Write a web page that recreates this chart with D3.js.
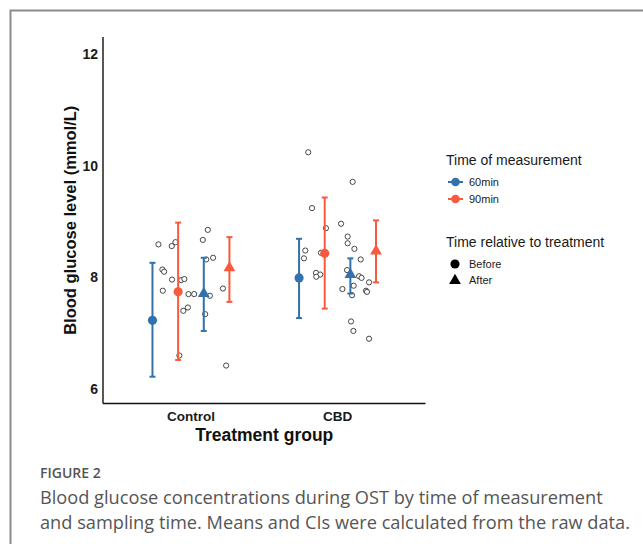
<!DOCTYPE html>
<html><head><meta charset="utf-8">
<script src="https://cdn.jsdelivr.net/npm/d3@7"></script>
<style>
body{margin:0;background:#fff;}
svg{display:block;}
</style></head>
<body>
<svg id="c" width="643" height="544"></svg>
<script>
// ---- data ----
const groups = ["Control", "CBD"];
const measurementTimes = ["60min", "90min"];
const relativeTimes = ["Before", "After"];
const yTicks = [6, 8, 10, 12];

// summary: group, relative time, measurement time, mean, lower CI, upper CI
const summaryGroup = ["Control","Control","Control","Control","CBD","CBD","CBD","CBD"];
const summaryRel   = ["Before","Before","After","After","Before","Before","After","After"];
const summaryMeas  = ["60min","90min","60min","90min","60min","90min","60min","90min"];
const summaryMean  = [7.23, 7.74, 7.71, 8.17, 7.99, 8.43, 8.05, 8.47];
const summaryLow   = [6.22, 6.52, 7.04, 7.56, 7.27, 7.44, 7.71, 7.91];
const summaryHigh  = [8.26, 8.98, 8.35, 8.72, 8.69, 9.43, 8.34, 9.02];

// raw (jittered) observations: x position on the category axis, glucose value
const rawX = [0.778,0.869,0.894,0.805,0.817,0.871,0.933,0.955,0.808,0.983,1.022,1.129,0.948,0.979,0.921,1.097,1.081,1.115,1.104,1.151,1.218,1.240,
              1.800,2.103,1.826,2.024,1.921,2.069,2.069,2.115,1.780,1.771,1.887,2.158,2.065,1.853,1.882,1.855,2.147,2.164,2.110,2.215,2.033,2.099,2.194,2.201,2.092,2.108,2.215];
const rawY = [8.59,8.56,8.63,8.14,8.10,7.96,7.95,7.97,7.76,7.70,7.70,7.67,7.40,7.46,6.60,7.34,8.67,8.85,8.32,8.35,7.80,6.42,
              10.24,9.71,9.24,8.96,8.88,8.73,8.61,8.51,8.48,8.34,8.44,8.32,8.13,8.08,8.05,8.01,8.02,7.99,7.85,7.91,7.79,7.68,7.76,7.74,7.21,7.04,6.90];

const captionLabel = "FIGURE 2";
const captionLines = ["Blood glucose concentrations during OST by time of measurement",
                      "and sampling time. Means and CIs were calculated from the raw data."];

// ---- layout ----
const svg = d3.select("#c");
const colors = d3.scaleOrdinal().domain(measurementTimes).range(["#3271AA", "#F85A3E"]);
const pLeft = 103, pRight = 425.5, pTop = 37, pBottom = 403.5;
const x = d3.scaleLinear().domain([0.4, 2.6]).range([pLeft, pRight]);
const y = d3.scaleLinear().domain([6, 12]).range([389, 54]);
const dodgeKeys = ["Before|60min","Before|90min","After|60min","After|90min"];
const dodge = d3.scalePoint().domain(dodgeKeys).range([-0.2625, 0.2625]);

// frame
svg.append("path").attr("d", "M10.5,544 V10.5 H643").attr("fill","none").attr("stroke","#8a8a8f").attr("stroke-width",2);

// axes lines
const g = svg.append("g");
g.append("line").attr("x1",pLeft).attr("x2",pLeft).attr("y1",pTop).attr("y2",pBottom).attr("stroke","#111").attr("stroke-width",1.4);
g.append("line").attr("x1",pLeft).attr("x2",pRight).attr("y1",pBottom).attr("y2",pBottom).attr("stroke","#111").attr("stroke-width",1.4);

const af = "Liberation Sans, Arial, sans-serif";
// y tick labels
g.selectAll(".yt").data(yTicks).join("text")
  .attr("x", pLeft - 5).attr("y", d => y(d)).attr("dy","0.36em")
  .attr("text-anchor","end").attr("font-family",af)
  .attr("font-weight","bold").attr("font-size",14).attr("fill","#1a1a1a").text(d => d);

// x tick labels
g.selectAll(".xt").data(groups).join("text")
  .attr("x", (d,i) => x(i+1)).attr("y", 421)
  .attr("text-anchor","middle").attr("font-family",af)
  .attr("font-weight","bold").attr("font-size",13.5).attr("fill","#1a1a1a").text(d => d);

// axis titles
g.append("text").attr("x", x(1.5)).attr("y", 441).attr("text-anchor","middle")
  .attr("font-family",af).attr("font-weight","bold")
  .attr("font-size",17.5).attr("fill","#111").text("Treatment group");
g.append("text").attr("transform", `translate(76,${(pTop+pBottom)/2}) rotate(-90)`).attr("text-anchor","middle")
  .attr("font-family",af).attr("font-weight","bold")
  .attr("font-size",16.5).attr("fill","#111").text("Blood glucose level (mmol/L)");

// raw points
g.selectAll(".raw").data(rawX.map((v,i)=>({x:v,y:rawY[i]}))).join("circle")
  .attr("cx", d => x(d.x)).attr("cy", d => y(d.y)).attr("r", 2.6)
  .attr("fill","#fff").attr("stroke","#333").attr("stroke-width",0.9);

// summaries
const summary = summaryMean.map((m,i)=>({group:summaryGroup[i], rel:summaryRel[i], meas:summaryMeas[i], mean:m, lo:summaryLow[i], hi:summaryHigh[i]}));
const cx = d => x(groups.indexOf(d.group)+1 + dodge(d.rel+"|"+d.meas));
const sg = g.selectAll(".sum").data(summary).join("g");
sg.append("line").attr("x1",cx).attr("x2",cx).attr("y1",d=>y(d.lo)).attr("y2",d=>y(d.hi))
  .attr("stroke",d=>colors(d.meas)).attr("stroke-width",2);
sg.append("line").attr("x1",d=>cx(d)-3).attr("x2",d=>cx(d)+3).attr("y1",d=>y(d.lo)).attr("y2",d=>y(d.lo))
  .attr("stroke",d=>colors(d.meas)).attr("stroke-width",2);
sg.append("line").attr("x1",d=>cx(d)-3).attr("x2",d=>cx(d)+3).attr("y1",d=>y(d.hi)).attr("y2",d=>y(d.hi))
  .attr("stroke",d=>colors(d.meas)).attr("stroke-width",2);
const sym = d3.scaleOrdinal().domain(relativeTimes).range([d3.symbolCircle, d3.symbolTriangle]);
const symSize = d3.scaleOrdinal().domain(relativeTimes).range([66, 60]);
sg.append("path").attr("transform", d => `translate(${cx(d)},${y(d.mean)})`)
  .attr("d", d => d3.symbol().type(sym(d.rel)).size(symSize(d.rel))())
  .attr("fill", d => colors(d.meas));

// legend
const lg = svg.append("g");
lg.append("text").attr("x",446).attr("y",165).attr("font-family",af).attr("font-size",14).attr("fill","#1a1a1a").text("Time of measurement");
measurementTimes.forEach((m,i) => {
  const yy = 182 + i*17;
  lg.append("line").attr("x1",448).attr("x2",463).attr("y1",yy).attr("y2",yy).attr("stroke",colors(m)).attr("stroke-width",2);
  lg.append("circle").attr("cx",455.5).attr("cy",yy).attr("r",4.3).attr("fill",colors(m));
  lg.append("text").attr("x",469).attr("y",yy).attr("dy","0.35em").attr("font-family",af).attr("font-size",11).attr("fill","#1a1a1a").text(m);
});
lg.append("text").attr("x",446).attr("y",247).attr("font-family",af).attr("font-size",14).attr("fill","#1a1a1a").text("Time relative to treatment");
relativeTimes.forEach((r,i) => {
  const yy = 264 + i*16.5;
  lg.append("path").attr("transform",`translate(455,${yy})`).attr("d", d3.symbol().type(sym(r)).size(symSize(r))()).attr("fill","#000");
  lg.append("text").attr("x",469).attr("y",yy).attr("dy","0.35em").attr("font-family",af).attr("font-size",11).attr("fill","#1a1a1a").text(r);
});

// caption
const cf = "'Open Sans', Lato, sans-serif";
svg.append("text").attr("x",40).attr("y",478).attr("font-family",cf).attr("font-size",14).attr("font-weight",600).attr("fill","#555").text(captionLabel);
const capTexts = svg.selectAll(".cap").data(captionLines).join("text")
  .attr("x",40).attr("y",(d,i)=>504 + i*25).attr("font-family",cf).attr("font-size",18).attr("fill","#555").text(d=>d);
// fit first line to target width of reference
const w0 = capTexts.node().getComputedTextLength();
const fs = 18 * 563 / w0;
capTexts.attr("font-size", fs);
</script>
</body></html>
